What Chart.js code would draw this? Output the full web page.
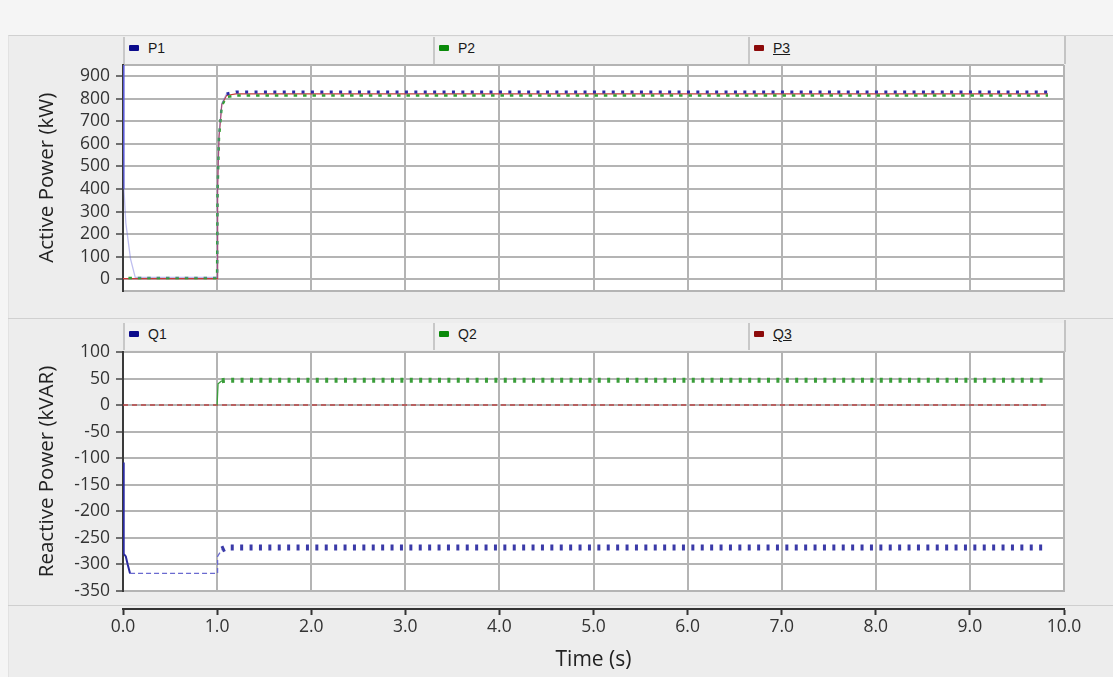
<!DOCTYPE html>
<html><head><meta charset="utf-8">
<script src="https://cdn.jsdelivr.net/npm/chart.js@4.4.0/dist/chart.umd.min.js"></script>
<style>
html,body{margin:0;padding:0;}
body{width:1113px;height:677px;background:#f5f5f5;position:relative;overflow:hidden;font-family:"Liberation Sans",Arial,sans-serif;}
#panel{position:absolute;left:8px;top:35px;width:1105px;height:642px;background:#ededed;border-top:1px solid #d0d0d0;border-left:1px solid #e2e2e2;}
.hline{position:absolute;height:1px;background:#d0d0d0;}
.vline{position:absolute;width:2px;background:#c4c4c4;}
canvas{position:absolute;}
.leg{position:absolute;height:27px;background:#f1f1f1;border-left:2px solid #c8c8c8;box-sizing:border-box;font-size:14px;color:#1a1a1a;}
.leg .sw{position:absolute;left:4px;top:8px;width:10px;height:6px;border-radius:1px;}
.leg .tx{position:absolute;left:23px;top:3px;line-height:16px;}
</style>
</head><body>
<div id="panel"></div>
<div class="hline" style="left:8px;top:318px;width:1105px;"></div>
<div class="hline" style="left:8px;top:605px;width:1105px;background:#cfcfcf;"></div>
<div class="vline" style="left:1064px;top:36px;height:28px;"></div>
<div class="vline" style="left:1064px;top:320px;height:32px;"></div>
<div id="legTop"></div>
<div id="legBottom"></div>
<canvas id="cTop" width="1058" height="270" style="left:8px;top:37px;"></canvas>
<canvas id="cBot" width="1105" height="354" style="left:8px;top:323px;"></canvas>
<script>
// ---------- data ----------
const timeTicks = [0,1,2,3,4,5,6,7,8,9,10];
const timeLabels = ['0.0','1.0','2.0','3.0','4.0','5.0','6.0','7.0','8.0','9.0','10.0'];
const activeTicks = [0,100,200,300,400,500,600,700,800,900];
const reactiveTicks = [-350,-300,-250,-200,-150,-100,-50,0,50,100];

const activeNames = ['P1','P2','P3'];
const reactiveNames = ['Q1','Q2','Q3'];

const p1Time = [0, 0.01, 0.03, 0.08, 0.13, 1.0, 1.005, 1.02, 1.05, 1.1, 1.2, 9.83];
const p1Vals = [950, 400, 250, 90, 8, 8, 400, 640, 780, 822, 830, 830];
const p2Time = [0, 1.0, 1.005, 1.02, 1.05, 1.1, 1.2, 9.83];
const p2Vals = [5, 5, 390, 630, 770, 808, 815, 815];
const p3Time = [0, 1.0, 1.005, 1.02, 1.05, 1.1, 1.2, 9.83];
const p3Vals = [3, 3, 400, 630, 775, 815, 822, 822];

const q1Time = [0, 0.005, 0.01, 0.03, 0.05, 0.075, 1.0, 1.005, 1.05, 1.1, 9.83];
const q1Vals = [-108, -230, -280, -285, -300, -317, -317, -285, -272, -268, -268];
const q2Time = [1.0, 1.01, 1.05, 1.1, 9.83];
const q2Vals = [0, 40, 46, 47, 47];
const q3Time = [0, 9.83];
const q3Vals = [0, 0];

// ---------- helpers ----------
const pts = (ts, vs) => ts.map((t, i) => ({x: t, y: vs[i]}));
const swatch = ['#0b0b8c', '#0a8a0a', '#8c0a0a'];

function buildLegend(id, names, top) {
  const lefts = [123, 433, 748];
  const rights = [433, 748, 1064];
  const host = document.getElementById(id);
  names.forEach((n, i) => {
    const d = document.createElement('div');
    d.className = 'leg';
    d.style.left = lefts[i] + 'px';
    d.style.top = top + 'px';
    d.style.width = (rights[i] - lefts[i]) + 'px';
    const s = document.createElement('div'); s.className = 'sw'; s.style.background = swatch[i];
    const t = document.createElement('div'); t.className = 'tx'; t.textContent = n;
    if (i === 2) t.style.textDecoration = 'underline';
    d.appendChild(s); d.appendChild(t); host.appendChild(d);
  });
}
buildLegend('legTop', activeNames, 37);
buildLegend('legBottom', reactiveNames, 323);

Chart.defaults.font.family = 'Open Sans';
const GRID = '#b4b4b4';

const plotBg = {
  id: 'plotBg',
  beforeDraw(chart) {
    const {ctx, chartArea: a} = chart;
    ctx.save();
    ctx.fillStyle = '#ffffff';
    ctx.fillRect(a.left, a.top, a.right - a.left, a.bottom - a.top);
    ctx.strokeStyle = GRID; ctx.lineWidth = 2;
    ctx.beginPath(); ctx.moveTo(a.left, a.top); ctx.lineTo(a.right, a.top); ctx.stroke();
    ctx.restore();
  }
};

function yScale(min, max, ticksArr, title) {
  return {
    type: 'linear', min, max,
    afterBuildTicks: s => { s.ticks = ticksArr.map(v => ({value: v})); },
    afterFit: s => { s.width = 115; },
    grid: {color: GRID, lineWidth: 2, tickLength: 7, tickColor: '#444', tickWidth: 1.5},
    border: {display: true, color: '#3a3a3a', width: 2},
    ticks: {color: '#333', font: {size: 17.5}, padding: 6, autoSkip: false},
    title: {display: true, text: title, color: '#222', font: {size: 20.5}, padding: {top: 27, bottom: 0}}
  };
}
function xGrid(h) {
  return {
    type: 'linear', min: 0, max: 10, weight: 0,
    afterBuildTicks: s => { s.ticks = timeTicks.map(v => ({value: v})); },
    afterFit: s => { s.height = h; },
    ticks: {display: false},
    grid: {color: GRID, lineWidth: 2, drawTicks: false},
    border: {display: true, color: GRID, width: 2}
  };
}
const common = {
  responsive: false, animation: false,
  plugins: {legend: {display: false}, tooltip: {enabled: false}},
  elements: {point: {radius: 0}, line: {tension: 0, fill: false, borderCapStyle: 'butt'}}
};

// ---------- active power ----------
new Chart(document.getElementById('cTop'), {
  type: 'line',
  data: {datasets: [
    {label: activeNames[0], data: pts(p1Time, p1Vals), borderColor: '#2a2aa6',
     segment: {
       borderWidth: c => c.p0.parsed.x < 1.1 ? 1.3 : 3,
       borderDash: c => c.p0.parsed.x < 1.1 ? [] : [3, 6.4],
       borderColor: c => c.p0.parsed.x < 0.005 ? '#5a5ad6' : (c.p0.parsed.x < 1.1 ? 'rgba(110,110,220,0.45)' : '#2a2aa6')
     }},
    {label: activeNames[1], data: pts(p2Time, p2Vals), borderColor: '#33a033', borderWidth: 2.5, borderDash: [3.5, 5.9], borderDashOffset: 4},
    {label: activeNames[2], data: pts(p3Time, p3Vals), borderColor: '#c83a3a', borderWidth: 1.2}
  ]},
  options: Object.assign({}, common, {
    layout: {padding: {top: 28, right: 2, left: 0, bottom: 0}},
    scales: {x: xGrid(2), y: yScale(-50, 950, activeTicks, 'Active Power (kW)')}
  }),
  plugins: [plotBg]
});

// ---------- reactive power ----------
const x2 = {
  type: 'linear', position: 'bottom', weight: 1, min: 0, max: 10,
  afterBuildTicks: s => { s.ticks = timeTicks.map(v => ({value: v})); },
  afterFit: s => { s.height = 68; },
  grid: {drawOnChartArea: false, drawTicks: true, tickLength: 6, tickColor: '#333', tickWidth: 2},
  border: {display: true, color: '#333', width: 2},
  ticks: {color: '#333', font: {size: 17.5}, padding: 2, maxRotation: 0, autoSkip: false,
          callback: (v, i) => timeLabels[i]},
  title: {display: true, text: 'Time (s)', color: '#222', font: {size: 21}, padding: {top: 0, bottom: 4}}
};
new Chart(document.getElementById('cBot'), {
  type: 'line',
  data: {datasets: [
    {label: reactiveNames[0], data: pts(q1Time, q1Vals), borderColor: '#3a3aa8',
     segment: {
       borderWidth: c => c.p0.parsed.x < 0.07 ? 2 : (c.p0.parsed.x < 1.04 ? 1.3 : 6),
       borderDash: c => c.p0.parsed.x < 0.07 ? [] : (c.p0.parsed.x < 1.04 ? [5, 3] : [3, 6.4]),
       borderColor: c => c.p0.parsed.x < 0.07 ? '#2a2aa0' : (c.p0.parsed.x < 1.04 ? '#6a6ad0' : '#3a3aa8')
     }},
    {label: reactiveNames[1], data: pts(q2Time, q2Vals), borderColor: '#3a9e3a',
     segment: {
       borderWidth: c => c.p0.parsed.x < 1.04 ? 1.3 : 5,
       borderDash: c => c.p0.parsed.x < 1.04 ? [] : [3, 6.4]
     }},
    {label: reactiveNames[2], data: pts(q3Time, q3Vals), borderColor: '#b84444', borderWidth: 1.5, borderDash: [5, 4]}
  ]},
  options: Object.assign({}, common, {
    layout: {padding: {top: 29, right: 49, left: 0, bottom: 0}},
    scales: {x: xGrid(18), x2: x2, y: yScale(-350, 100, reactiveTicks, 'Reactive Power (kVAR)')}
  }),
  plugins: [plotBg]
});
</script>
</body></html>
